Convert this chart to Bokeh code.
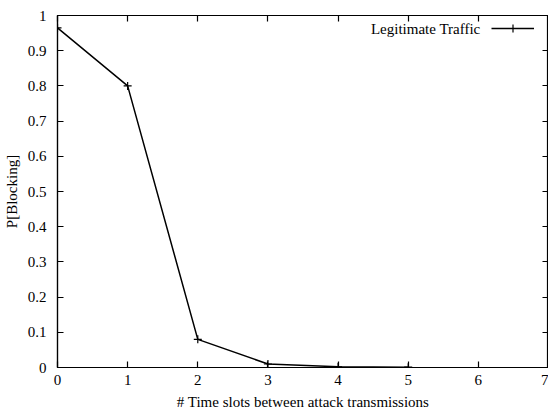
from bokeh.plotting import figure
from bokeh.models import (Range1d, LinearAxis, FixedTicker, CustomJSTickFormatter,
                          Legend, LegendItem, Label)
from bokeh.embed import file_html
from bokeh.resources import INLINE

slots = [0, 1, 2, 3, 4, 5]
p_blocking = [0.965, 0.80, 0.08, 0.01, 0.002, 0.001]
x_ticks = [0, 1, 2, 3, 4, 5, 6, 7]
y_ticks = [0, 0.1, 0.2, 0.3, 0.4, 0.5, 0.6, 0.7, 0.8, 0.9, 1.0]
series_name = "Legitimate Traffic"

FONT = "serif"
FS = "15px"

p = figure(frame_width=491, frame_height=352, output_backend="svg", toolbar_location=None,
           x_range=Range1d(0, 7), y_range=Range1d(0, 1),
           min_border_left=49, min_border_right=0, min_border_top=15, min_border_bottom=37)
p.grid.visible = False
p.outline_line_color = "black"
p.outline_line_width = 1.2
p.background_fill_color = "white"
p.border_fill_color = "white"

fmt = CustomJSTickFormatter(code="return tick.toFixed(1).replace(/\\.0$/, '');")

def style_axis(ax, ticks, labels=True):
    ax.ticker = FixedTicker(ticks=ticks)
    ax.major_tick_in = 6
    ax.major_tick_out = 0
    ax.minor_tick_in = 0
    ax.minor_tick_out = 0
    ax.axis_line_color = "black"
    ax.axis_line_width = 1.2
    ax.major_tick_line_width = 1.2
    ax.major_label_text_font = FONT
    ax.major_label_text_font_size = FS
    ax.major_label_text_color = "black"
    ax.axis_label_text_font = FONT
    ax.axis_label_text_font_size = FS
    ax.axis_label_text_font_style = "normal"
    ax.axis_label_text_color = "black"
    ax.formatter = fmt
    if not labels:
        ax.major_label_text_font_size = "0px"
        ax.major_label_text_alpha = 0
        ax.major_label_standoff = 0

style_axis(p.xaxis[0], x_ticks)
style_axis(p.yaxis[0], y_ticks)
p.xaxis[0].axis_label = "# Time slots between attack transmissions"
p.yaxis[0].axis_label = "P[Blocking]"
p.xaxis[0].major_label_standoff = 7
p.xaxis[0].axis_label_standoff = 6
p.yaxis[0].major_label_standoff = 11
p.yaxis[0].axis_label_standoff = 5

top = LinearAxis()
style_axis(top, x_ticks, labels=False)
p.add_layout(top, "above")
right = LinearAxis()
style_axis(right, y_ticks, labels=False)
p.add_layout(right, "right")

ln = p.line(slots, p_blocking, line_color="black", line_width=1.5)
sc = p.scatter(slots, p_blocking, marker="cross", size=8, line_color="black", line_width=1.2)

legend = Legend(items=[LegendItem(label=" ", renderers=[ln, sc])],
                location=(434, 329), border_line_alpha=0, background_fill_alpha=0,
                glyph_width=43, glyph_height=20, label_width=0, padding=0, margin=0,
                label_text_font_size="1px", spacing=0)
p.add_layout(legend)

lab = Label(x=423, y=339, x_units="screen", y_units="screen", text=series_name,
            text_font=FONT, text_font_size=FS, text_align="right",
            text_baseline="middle", text_color="black")
p.add_layout(lab)

open("out.html", "w").write(file_html(p, INLINE))
